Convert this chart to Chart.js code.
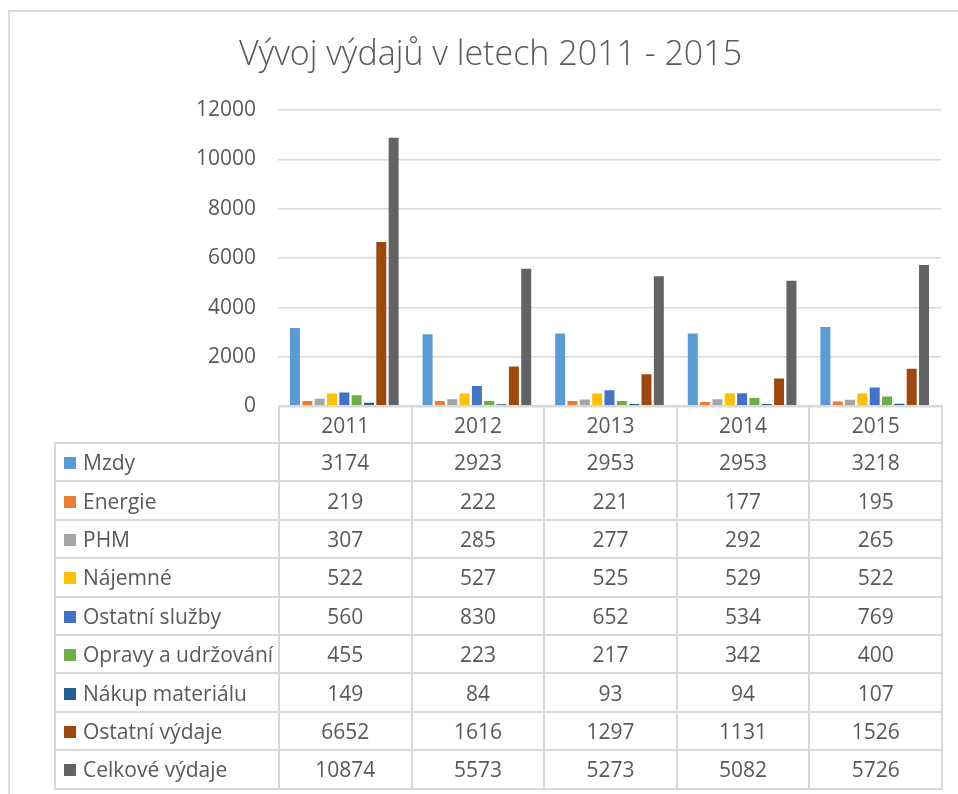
<!DOCTYPE html>
<html lang="cs">
<head>
    <meta charset="UTF-8">
    <title>Vývoj výdajů v letech 2011 - 2015</title>
    <script src="https://cdn.jsdelivr.net/npm/chart.js"></script>
    <style>
        body { margin: 0; width: 958px; height: 794px; overflow: hidden; background: #fff;
               font-family: "Open Sans", sans-serif; color: #595959; position: relative; }
        #frame { position: absolute; left: 8px; top: 10px; width: 1000px; height: 1000px;
                 border-top: 2px solid #dcdcdc; border-left: 2px solid #dcdcdc; }
        #chart-box { position: absolute; left: 9px; top: 11px; }
        #data-table { position: absolute; left: 54px; top: 405px; border-collapse: collapse;
                      table-layout: fixed; font-size: 21px; }
        #data-table td { border: 2px solid #d9d9d9; text-align: center; padding: 0;
                         white-space: nowrap; vertical-align: middle; }
        #data-table td.name { text-align: left; padding-left: 8px; }
        #data-table td.blank { border-top: none; border-left: none; }
        .key { display: inline-block; width: 12px; height: 12px; margin-right: 7px;
               vertical-align: 1px; }
    </style>
</head>
<body>
    <div id="frame"></div>
    <div id="chart-box"><canvas id="bar-chart" width="962" height="430"></canvas></div>
    <table id="data-table"></table>

    <script>
        const years = ["2011", "2012", "2013", "2014", "2015"];
        const seriesNames = ["Mzdy", "Energie", "PHM", "Nájemné", "Ostatní služby",
                             "Opravy a udržování", "Nákup materiálu", "Ostatní výdaje", "Celkové výdaje"];
        const seriesColors = ["#5b9bd5", "#ed7d31", "#a5a5a5", "#ffc000", "#4472c4",
                              "#70ad47", "#255e91", "#9e480e", "#636363"];

        const mzdy = [3174, 2923, 2953, 2953, 3218];
        const energie = [219, 222, 221, 177, 195];
        const phm = [307, 285, 277, 292, 265];
        const najemne = [522, 527, 525, 529, 522];
        const ostatniSluzby = [560, 830, 652, 534, 769];
        const opravy = [455, 223, 217, 342, 400];
        const nakupMaterialu = [149, 84, 93, 94, 107];
        const ostatniVydaje = [6652, 1616, 1297, 1131, 1526];
        const celkoveVydaje = [10874, 5573, 5273, 5082, 5726];

        const yMin = 0, yMax = 12000, yStep = 2000;

        const seriesData = [mzdy, energie, phm, najemne, ostatniSluzby,
                            opravy, nakupMaterialu, ostatniVydaje, celkoveVydaje];

        const ctx = document.getElementById("bar-chart").getContext("2d");
        const chart = new Chart(ctx, {
            type: "bar",
            data: {
                labels: years,
                datasets: seriesNames.map((name, i) => ({
                    label: name,
                    data: seriesData[i],
                    backgroundColor: seriesColors[i],
                    categoryPercentage: 0.837,
                    barPercentage: 0.81
                }))
            },
            options: {
                responsive: false,
                animation: false,
                layout: { padding: { left: 31, right: 30, top: 0, bottom: 15 } },
                plugins: {
                    legend: { display: false },
                    tooltip: { enabled: false },
                    title: {
                        display: true,
                        text: "Vývoj výdajů v letech 2011 - 2015",
                        color: "#595959",
                        font: { family: "Open Sans", size: 34, weight: "300", lineHeight: 1.2 },
                        padding: { top: 24, bottom: 34.2 }
                    }
                },
                scales: {
                    x: { display: false },
                    y: {
                        min: yMin,
                        max: yMax,
                        ticks: { stepSize: yStep, color: "#595959", padding: 22,
                                 font: { family: "Open Sans", size: 21 },
                                 callback: v => String(v) },
                        grid: { color: "#d9d9d9", lineWidth: 1.5, drawTicks: false },
                        border: { display: false },
                        afterFit(scale) { scale.width = 238; }
                    }
                }
            }
        });

        // data table under the plot, columns lined up with the x scale
        const xs = chart.scales.x;
        const colW = (xs.right - xs.left) / years.length;
        const labelW = 9 + xs.left - 54;
        const table = document.getElementById("data-table");
        table.style.width = (labelW + colW * years.length) + "px";

        let html = "<colgroup><col style='width:" + labelW + "px'>";
        years.forEach(() => { html += "<col style='width:" + colW + "px'>"; });
        html += "</colgroup><tr style='height:37px'><td class='blank'></td>";
        years.forEach(y => { html += "<td>" + y + "</td>"; });
        html += "</tr>";
        seriesNames.forEach((name, i) => {
            html += "<tr style='height:38.4px'><td class='name'><span class='key' style='background:" +
                    seriesColors[i] + "'></span>" + name + "</td>";
            seriesData[i].forEach(v => { html += "<td>" + v + "</td>"; });
            html += "</tr>";
        });
        table.innerHTML = html;
    </script>
</body>
</html>
